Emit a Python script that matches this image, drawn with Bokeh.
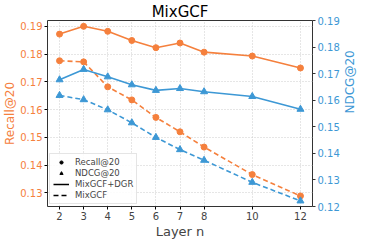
import math
from bokeh.plotting import figure
from bokeh.models import Range1d, LinearAxis, Legend, LegendItem, FixedTicker, ColumnDataSource
from bokeh.embed import file_html
from bokeh.resources import INLINE

layers = [2, 3, 4, 5, 6, 7, 8, 10, 12]
recall_dgr = [0.1872, 0.1900, 0.1882, 0.1849, 0.1823, 0.1840, 0.1807, 0.1793, 0.1750]
recall_base = [0.1776, 0.1772, 0.1682, 0.1635, 0.1572, 0.1520, 0.1465, 0.1366, 0.1289]
ndcg_dgr = [0.1677, 0.1716, 0.1688, 0.1658, 0.1637, 0.1644, 0.1632, 0.1614, 0.1566]
ndcg_base = [0.1618, 0.1602, 0.1564, 0.1515, 0.1460, 0.1414, 0.1374, 0.1291, 0.1221]
left_ticks = [0.13, 0.14, 0.15, 0.16, 0.17, 0.18, 0.19]
right_ticks = [0.12, 0.13, 0.14, 0.15, 0.16, 0.17, 0.18, 0.19]

ORANGE = "#f5803d"
BLUE = "#3d98d5"
FONT = "DejaVu Sans"

p = figure(width=366, height=241, output_backend="svg", toolbar_location=None,
           x_range=Range1d(1.5, 12.5), y_range=Range1d(0.1251, 0.1921),
           title="MixGCF", min_border_left=0, min_border_right=0,
           min_border_top=0, min_border_bottom=0)
p.extra_y_ranges = {"ndcg": Range1d(0.12, 0.19)}

p.title.align = "center"
p.title.text_font = FONT
p.title.text_font_size = "15px"
p.title.text_font_style = "normal"
p.title.text_color = "black"
p.title.standoff = 0
p.title.offset = 0

p.outline_line_color = "#333333"
p.outline_line_width = 1
p.outline_line_alpha = 1

p.xaxis.ticker = FixedTicker(ticks=layers)
p.xaxis.axis_label = "Layer n"
p.xaxis.axis_label_text_font = FONT
p.xaxis.axis_label_text_font_size = "13px"
p.xaxis.axis_label_text_font_style = "normal"
p.xaxis.axis_label_standoff = 1
p.xaxis.major_label_text_font = FONT
p.xaxis.major_label_text_font_size = "10px"
p.xaxis.major_label_standoff = 2
p.xaxis.major_tick_out = 3
p.xaxis.major_tick_in = 0
p.xaxis.minor_tick_line_color = None
p.xaxis.axis_line_color = None

p.yaxis.ticker = FixedTicker(ticks=left_ticks)
p.yaxis.axis_label = "Recall@20"
p.yaxis.axis_label_text_color = ORANGE
p.yaxis.axis_label_text_font = FONT
p.yaxis.axis_label_text_font_size = "12px"
p.yaxis.axis_label_text_font_style = "normal"
p.yaxis.axis_label_standoff = 0
p.yaxis.major_label_text_color = ORANGE
p.yaxis.major_label_text_font = FONT
p.yaxis.major_label_text_font_size = "10px"
p.yaxis.major_label_standoff = 2
p.yaxis.major_tick_out = 3
p.yaxis.major_tick_in = 0
p.yaxis.minor_tick_line_color = None
p.yaxis.axis_line_color = None

raxis = LinearAxis(y_range_name="ndcg", ticker=FixedTicker(ticks=right_ticks),
                   axis_label="NDCG@20")
raxis.axis_label_text_color = BLUE
raxis.axis_label_text_font = FONT
raxis.axis_label_text_font_size = "12px"
raxis.axis_label_text_font_style = "normal"
raxis.axis_label_standoff = 7
raxis.major_label_text_color = BLUE
raxis.major_label_text_font = FONT
raxis.major_label_text_font_size = "10px"
raxis.major_label_standoff = 2
raxis.major_tick_out = 3
raxis.major_tick_in = 0
raxis.major_tick_line_color = "#333333"
raxis.minor_tick_line_color = None
raxis.axis_line_color = None
if "axis_label_orientation" in raxis.properties():
    raxis.axis_label_orientation = math.pi / 2
p.add_layout(raxis, "right")

p.xgrid.grid_line_color = "#cccccc"
p.xgrid.grid_line_dash = "1 2"
p.ygrid.grid_line_color = "#cccccc"
p.ygrid.grid_line_dash = "1 2"

LW = 1.6
MS = 6
p.line(layers, recall_dgr, color=ORANGE, line_width=LW)
p.scatter(layers, recall_dgr, marker="circle", size=MS, color=ORANGE)
p.line(layers, recall_base, color=ORANGE, line_width=LW, line_dash="5 3")
p.scatter(layers, recall_base, marker="circle", size=MS, color=ORANGE)
p.line(layers, ndcg_dgr, color=BLUE, line_width=LW, y_range_name="ndcg")
p.scatter(layers, ndcg_dgr, marker="triangle", size=MS + 1, color=BLUE, y_range_name="ndcg")
p.line(layers, ndcg_base, color=BLUE, line_width=LW, line_dash="5 3", y_range_name="ndcg")
p.scatter(layers, ndcg_base, marker="triangle", size=MS + 1, color=BLUE, y_range_name="ndcg")

# off-range placeholders used only for legend glyphs
dummy = ColumnDataSource(data=dict(x=[-100, -99], y=[-100, -99]))
r_c = p.scatter("x", "y", source=dummy, marker="circle", size=6, color="black")
r_t = p.scatter("x", "y", source=dummy, marker="triangle", size=6, color="black")
r_s = p.line("x", "y", source=dummy, color="black", line_width=1.5)
r_d = p.line("x", "y", source=dummy, color="black", line_width=1.5, line_dash="5 3")

legend = Legend(items=[
    LegendItem(label="Recall@20", renderers=[r_c]),
    LegendItem(label="NDCG@20", renderers=[r_t]),
    LegendItem(label="MixGCF+DGR", renderers=[r_s]),
    LegendItem(label="MixGCF", renderers=[r_d]),
], location="bottom_left")
legend.label_text_font = FONT
legend.label_text_font_size = "8.5px"
legend.label_height = 8
legend.glyph_height = 8
legend.glyph_width = 16
legend.spacing = 1
legend.padding = 3
legend.margin = 2
legend.label_standoff = 6
legend.border_line_color = "#cccccc"
legend.background_fill_alpha = 0.85
p.add_layout(legend)

open("out.html", "w").write(file_html(p, INLINE))
